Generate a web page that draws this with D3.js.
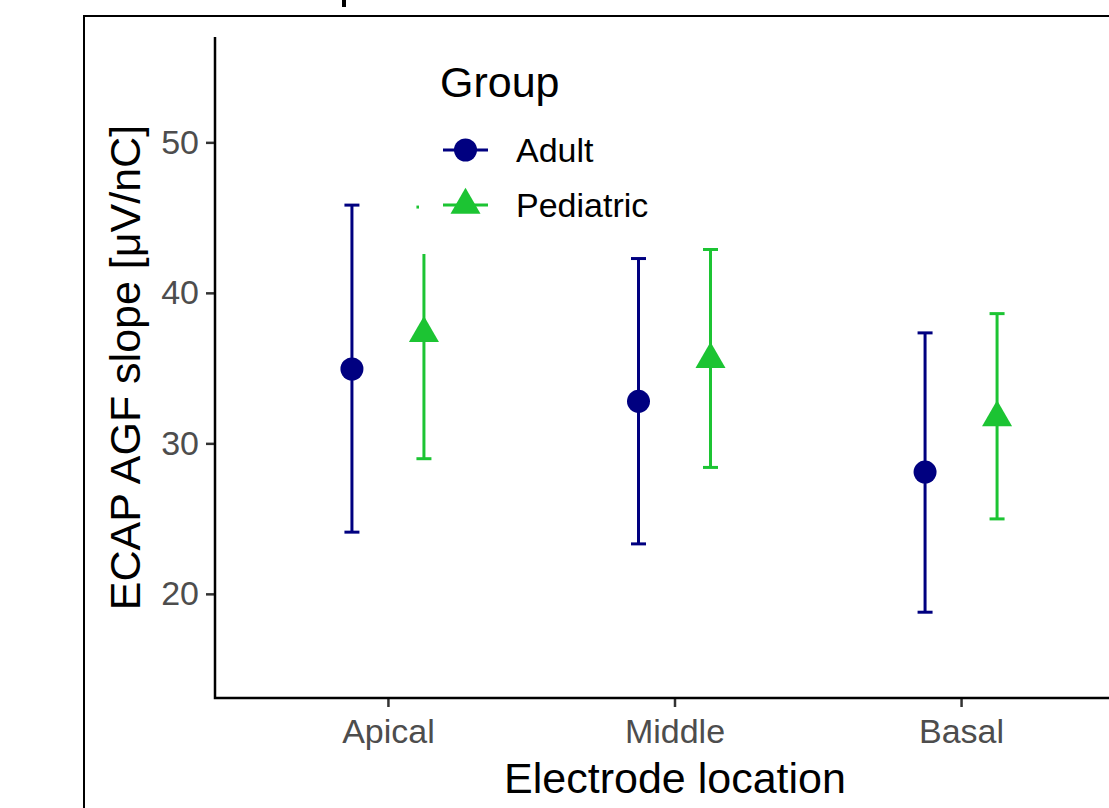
<!DOCTYPE html>
<meta charset="utf-8">
<head>
    <script src="https://d3js.org/d3.v7.min.js"></script>
    <style>
        body { margin: 0; background: #fff; }
        text { font-family: "Liberation Sans", Arial, Helvetica, sans-serif; }
    </style>
</head>
<body>
    <div id="graph"></div>
</body>

<script>
    // data
    var locations = ["Apical", "Middle", "Basal"];
    var groups = ["Adult", "Pediatric"];
    var adultMean = [34.94, 32.79, 28.09];
    var adultLow  = [24.10, 23.32, 18.78];
    var adultHigh = [45.83, 42.28, 37.34];
    var pedMean = [37.31, 35.58, 31.72];
    var pedLow  = [28.98, 28.40, 24.98];
    var pedHigh = [45.70, 42.88, 38.62];
    var yTicks = [20, 30, 40, 50];
    var groupColors = ["#000080", "#1cc433"];

    function draw() {
    var W = 1109, H = 808;
    var svg = d3.select("#graph")
      .append("svg")
        .attr("width", W)
        .attr("height", H);

    // outer frame (cut off at right and bottom)
    svg.append("path")
        .attr("d", "M84,808 V16 H1109")
        .attr("fill", "none")
        .attr("stroke", "#000")
        .attr("stroke-width", 2);
    // fragment of something cut off above the frame
    svg.append("rect").attr("x", 342).attr("y", 0).attr("width", 4).attr("height", 7).attr("fill", "#000");

    var plotLeft = 215, plotBottom = 698, plotTop = 37;

    var x = d3.scalePoint()
        .domain(locations)
        .range([216, 1133])
        .padding(0.6);
    var dodge = d3.scalePoint()
        .domain(groups)
        .range([-36, 36]);
    var y = d3.scaleLinear()
        .domain([13.08, 57.0])
        .range([plotBottom, plotTop]);
    var color = d3.scaleOrdinal().domain(groups).range(groupColors);

    // rows for both groups
    var rows = [];
    locations.forEach(function(loc, i) {
        rows.push({loc: loc, group: "Adult", mean: adultMean[i], lo: adultLow[i], hi: adultHigh[i]});
        rows.push({loc: loc, group: "Pediatric", mean: pedMean[i], lo: pedLow[i], hi: pedHigh[i]});
    });

    // Y axis
    var yAxis = svg.append("g")
        .attr("transform", "translate(" + plotLeft + ",0)")
        .call(d3.axisLeft(y).tickValues(yTicks).tickSize(9).tickPadding(7));
    yAxis.select(".domain").remove();
    yAxis.selectAll(".tick line").attr("stroke", "#333").attr("stroke-width", 2.5);
    yAxis.selectAll(".tick text").attr("fill", "#4d4d4d").style("font-size", "34px");

    // X axis
    var xAxis = svg.append("g")
        .attr("transform", "translate(0," + plotBottom + ")")
        .call(d3.axisBottom(x).tickSize(9).tickPadding(12));
    xAxis.select(".domain").remove();
    xAxis.selectAll(".tick line").attr("stroke", "#333").attr("stroke-width", 2.5);
    xAxis.selectAll(".tick text").attr("fill", "#4d4d4d").style("font-size", "34px");

    // axis lines
    svg.append("path")
        .attr("d", "M" + plotLeft + "," + plotTop + " V" + plotBottom + " H" + W)
        .attr("fill", "none")
        .attr("stroke", "#000")
        .attr("stroke-width", 2.5);

    // axis titles
    svg.append("text")
        .attr("x", 675)
        .attr("y", 793)
        .attr("text-anchor", "middle")
        .style("font-size", "43px")
        .attr("fill", "#000")
        .text("Electrode location");
    svg.append("text")
        .attr("transform", "translate(140," + ((plotTop + plotBottom) / 2) + ") rotate(-90)")
        .attr("text-anchor", "middle")
        .style("font-size", "43px")
        .attr("fill", "#000")
        .text("ECAP AGF slope [\u03bcV/nC]");

    // error bars
    var bars = svg.append("g").selectAll("g")
        .data(rows)
        .enter().append("g")
        .attr("stroke", function(d) { return color(d.group); })
        .attr("stroke-width", 3);
    bars.append("line")
        .attr("x1", function(d) { return x(d.loc) + dodge(d.group); })
        .attr("x2", function(d) { return x(d.loc) + dodge(d.group); })
        .attr("y1", function(d) { return y(d.lo); })
        .attr("y2", function(d) { return y(d.hi); });
    bars.append("line")
        .attr("x1", function(d) { return x(d.loc) + dodge(d.group) - 7.5; })
        .attr("x2", function(d) { return x(d.loc) + dodge(d.group) + 7.5; })
        .attr("y1", function(d) { return y(d.lo); })
        .attr("y2", function(d) { return y(d.lo); });
    bars.append("line")
        .attr("x1", function(d) { return x(d.loc) + dodge(d.group) - 7.5; })
        .attr("x2", function(d) { return x(d.loc) + dodge(d.group) + 7.5; })
        .attr("y1", function(d) { return y(d.hi); })
        .attr("y2", function(d) { return y(d.hi); });

    // points
    var circleSym = d3.symbol().type(d3.symbolCircle).size(Math.PI * 11.5 * 11.5);
    var triSym = d3.symbol().type(d3.symbolTriangle).size(390);
    svg.append("g").selectAll("path")
        .data(rows)
        .enter().append("path")
        .attr("transform", function(d) { return "translate(" + (x(d.loc) + dodge(d.group)) + "," + y(d.mean) + ")"; })
        .attr("d", function(d) { return d.group == "Adult" ? circleSym() : triSym(); })
        .attr("fill", function(d) { return color(d.group); });

    // legend (white background over the plot)
    var legend = svg.append("g");
    legend.append("rect")
        .attr("x", 419).attr("y", 45)
        .attr("width", 250).attr("height", 209)
        .attr("fill", "#fff");
    legend.append("text")
        .attr("x", 440).attr("y", 97)
        .style("font-size", "43px")
        .attr("fill", "#000")
        .text("Group");
    var keys = legend.selectAll(".key")
        .data(groups)
        .enter().append("g")
        .attr("class", "key")
        .attr("transform", function(d, i) { return "translate(0," + (150 + i * 55) + ")"; });
    keys.append("line")
        .attr("x1", 443).attr("x2", 488)
        .attr("stroke", function(d) { return color(d); })
        .attr("stroke-width", 3);
    keys.append("path")
        .attr("transform", "translate(465.5,0)")
        .attr("d", function(d) { return d == "Adult" ? circleSym() : triSym(); })
        .attr("fill", function(d) { return color(d); });
    keys.append("text")
        .attr("x", 516).attr("y", 12)
        .style("font-size", "34px")
        .attr("fill", "#000")
        .text(function(d) { return d; });
    }

    draw();
</script>
